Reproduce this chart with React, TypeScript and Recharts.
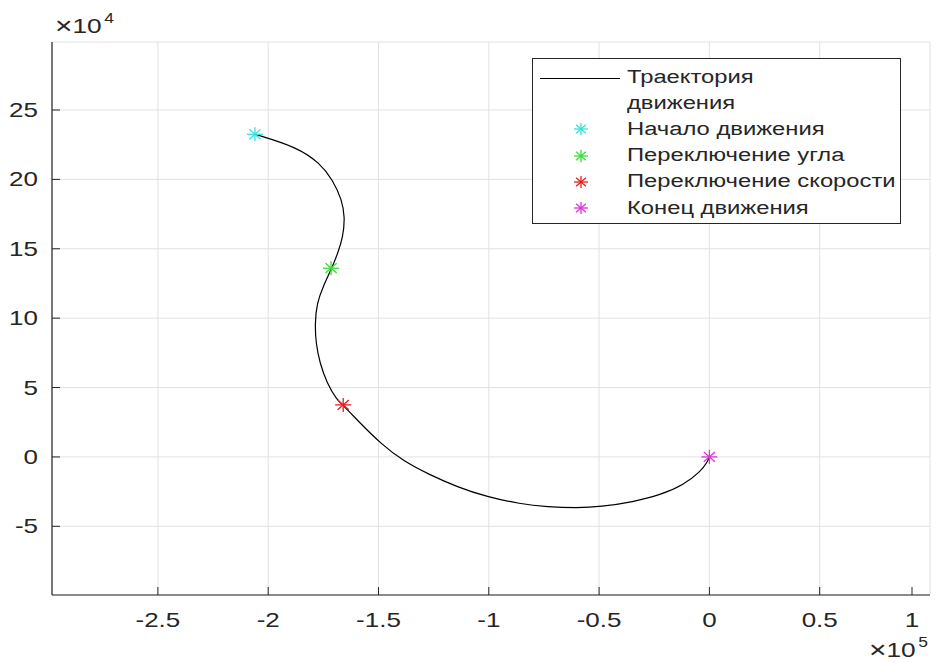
import React from "react"
import { CartesianGrid, ComposedChart, Legend, Line, Scatter, XAxis, YAxis } from "recharts"

// trajectory (x, y in metres)
const pathX = [
  -206000, -187000, -176600, -170700, -166600, -165200, -166100, -168400, -171100, -175200, -177900,
  -178800, -178400, -176600, -173400, -168900, -166100, -158400, -149300, -138900, -126600, -114400,
  -100800, -85800, -73500, -59900, -49500, -34500, -22200, -11800, -4100, -900, 0,
]
const pathY = [
  232500, 223300, 211800, 199600, 185200, 172900, 158500, 147000, 136200, 122500, 111000,
  96500, 82100, 67700, 53300, 41100, 37500, 24500, 10100, -2900, -13000, -21600,
  -28800, -33900, -36000, -36700, -36000, -32400, -27400, -20200, -10800, -3600, 0,
]

const markNames = ["Начало движения", "Переключение угла", "Переключение скорости", "Конец движения"]
const markX = [-206000, -171500, -166000, 0]
const markY = [232500, 136000, 37500, 0]
const markColors = ["#33e0e0", "#33e033", "#e81c1c", "#e030e0"]

const xTicks = [-250000, -200000, -150000, -100000, -50000, 0, 50000, 100000]
const yTicks = [-50000, 0, 50000, 100000, 150000, 200000, 250000]

const pathData = pathX.map((x, i) => ({ x, y: pathY[i] }))

const ink = "#262626"
const font = "'Liberation Sans', Arial, sans-serif"

function Asterisk({ cx, cy, color, rx = 8, ry = 7 }: any) {
  const dx = rx * 0.7
  const dy = ry * 0.7
  return (
    <g stroke={color} strokeWidth={1.3}>
      <line x1={cx - rx} y1={cy} x2={cx + rx} y2={cy} />
      <line x1={cx} y1={cy - ry} x2={cx} y2={cy + ry} />
      <line x1={cx - dx} y1={cy - dy} x2={cx + dx} y2={cy + dy} />
      <line x1={cx - dx} y1={cy + dy} x2={cx + dx} y2={cy - dy} />
    </g>
  )
}

function fmt(v: number, scale: number) {
  const n = Math.round((v / scale) * 10) / 10
  return String(n)
}

function BottomTick({ x, y, payload }: any) {
  return (
    <g>
      <line x1={x} y1={y} x2={x} y2={y - 8} stroke={ink} />
      <text transform={`translate(${x},${y + 32}) scale(1.3,1)`} textAnchor="middle" fontSize={20} fill={ink} fontFamily={font}>
        {fmt(payload.value, 1e5)}
      </text>
    </g>
  )
}

function LeftTick({ x, y, payload }: any) {
  return (
    <g>
      <line x1={x} y1={y} x2={x + 8} y2={y} stroke={ink} />
      <text transform={`translate(${x - 14},${y + 7}) scale(1.3,1)`} textAnchor="end" fontSize={20} fill={ink} fontFamily={font}>
        {fmt(payload.value, 1e4)}
      </text>
    </g>
  )
}

function TopTick({ x, y }: any) {
  return <line x1={x} y1={y} x2={x} y2={y + 8} stroke={ink} />
}

function RightTick({ x, y }: any) {
  return <line x1={x} y1={y} x2={x - 8} y2={y} stroke={ink} />
}

function LegendBox() {
  const rows: any[] = [
    { kind: "line", text: "Траектория" },
    { kind: "none", text: "движения" },
    ...markNames.map((n, i) => ({ kind: "mark", text: n, color: markColors[i] })),
  ]
  return (
    <div
      style={{
        border: `1px solid ${ink}`,
        background: "#fff",
        width: 369,
        height: 166,
        boxSizing: "border-box",
        padding: "5px 0 0 0",
        fontFamily: font,
        color: ink,
      }}
    >
      {rows.map((r, i) => (
        <div key={i} style={{ display: "flex", alignItems: "center", height: 26.2 }}>
          <div style={{ width: 94, height: 20, position: "relative" }}>
            {r.kind === "line" && (
              <div style={{ position: "absolute", left: 7, width: 80, top: 11, borderTop: "1.3px solid #000" }} />
            )}
            {r.kind === "mark" && (
              <svg width={94} height={20} style={{ position: "absolute", left: 0, top: 0 }}>
                <Asterisk cx={48} cy={10} color={r.color} rx={7} ry={6} />
              </svg>
            )}
          </div>
          <span
            style={{
              fontSize: 18,
              display: "inline-block",
              transform: "scaleX(1.32)",
              transformOrigin: "left center",
              whiteSpace: "nowrap",
            }}
          >
            {r.text}
          </span>
        </div>
      ))}
    </div>
  )
}

function Exponent({ x, y, power }: any) {
  return (
    <text transform={`translate(${x},${y}) scale(1.25,1)`} fontFamily={font} fill={ink} fontSize={21}>
      <tspan fontSize={24} dy={1}>×</tspan>
      <tspan dy={-1}>10</tspan>
      <tspan fontSize={14} dx={2} dy={-10}>{power}</tspan>
    </text>
  )
}

export default function App() {
  return (
    <div style={{ position: "absolute", left: 0, top: 0, width: 936, height: 663, background: "#fff" }}>
      <ComposedChart width={936} height={663} margin={{ top: 42, right: 6, bottom: 0, left: 0 }}>
        <CartesianGrid stroke="#e2e2e2" strokeWidth={1} />
        <XAxis
          type="number"
          dataKey="x"
          domain={[-298000, 100000]}
          ticks={xTicks}
          allowDataOverflow
          height={68}
          tickSize={0}
          tickMargin={0}
          tickLine={false}
          axisLine={{ stroke: ink, strokeWidth: 1.2 }}
          tick={<BottomTick />}
        />
        <XAxis
          xAxisId="top"
          orientation="top"
          type="number"
          dataKey="x"
          domain={[-298000, 100000]}
          ticks={xTicks}
          allowDataOverflow
          height={0}
          tickSize={0}
          tickMargin={0}
          tickLine={false}
          axisLine={{ stroke: ink, strokeWidth: 1.2 }}
          tick={<TopTick />}
        />
        <YAxis
          type="number"
          dataKey="y"
          domain={[-99500, 299000]}
          ticks={yTicks}
          allowDataOverflow
          width={52}
          tickSize={0}
          tickMargin={0}
          tickLine={false}
          axisLine={{ stroke: ink, strokeWidth: 1.2 }}
          tick={<LeftTick />}
        />
        <YAxis
          yAxisId="right"
          orientation="right"
          type="number"
          dataKey="y"
          domain={[-99500, 299000]}
          ticks={yTicks}
          allowDataOverflow
          width={0}
          tickSize={0}
          tickMargin={0}
          tickLine={false}
          axisLine={{ stroke: ink, strokeWidth: 1.2 }}
          tick={<RightTick />}
        />
        <Line
          name="Траектория движения"
          data={pathData}
          dataKey="y"
          type="basis"
          stroke="#000"
          strokeWidth={1.2}
          dot={false}
          activeDot={false}
          isAnimationActive={false}
        />
        {markNames.map((n, i) => (
          <Scatter
            key={n}
            name={n}
            data={[{ x: markX[i], y: markY[i] }]}
            dataKey="y"
            shape={(p: any) => <Asterisk cx={p.cx} cy={p.cy} color={markColors[i]} />}
            isAnimationActive={false}
          />
        ))}
        <Legend
          layout="vertical"
          align="center"
          verticalAlign="middle"
          wrapperStyle={{ position: "absolute", left: 532, top: 58, width: 369 }}
          content={() => <LegendBox />}
        />
      </ComposedChart>
      <svg width={936} height={663} style={{ position: "absolute", left: 0, top: 0, pointerEvents: "none" }}>
        <Exponent x={55} y={33} power="4" />
        <Exponent x={869} y={657} power="5" />
      </svg>
    </div>
  )
}
